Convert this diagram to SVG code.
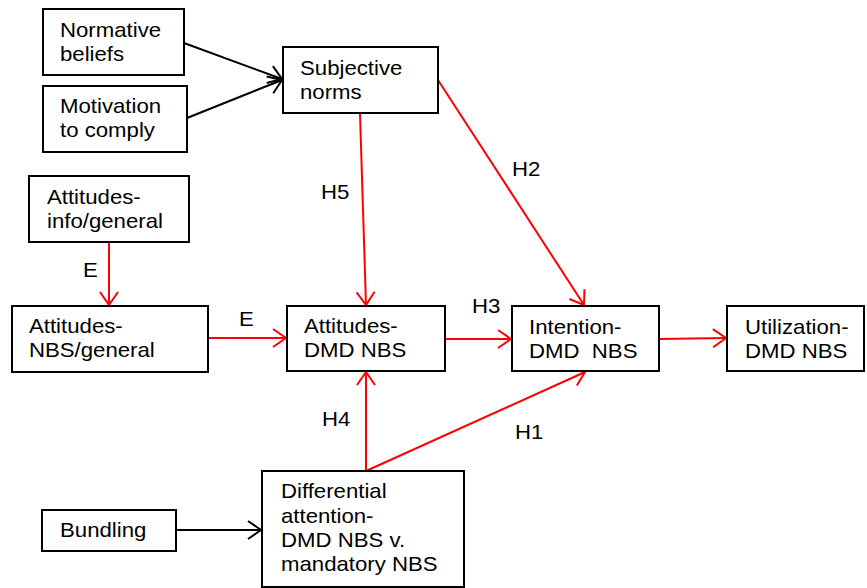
<svg xmlns="http://www.w3.org/2000/svg" width="867" height="588" viewBox="0 0 867 588">
<defs>
<style>
.box{fill:#fff;stroke:#000;stroke-width:2}
text{font-family:"Liberation Sans",Arial,sans-serif;font-size:20px;fill:#000}
.blk{stroke:#000;stroke-width:2;fill:none}
.red{stroke:#ff0000;stroke-width:2;fill:none}
</style>
<marker id="ab" viewBox="0 0 16 20" refX="14" refY="10" markerWidth="16" markerHeight="20" markerUnits="userSpaceOnUse" orient="auto">
<path d="M1,1 L14,10 L1,19" fill="none" stroke="#000" stroke-width="2"/>
</marker>
<marker id="ar" viewBox="0 0 16 20" refX="14" refY="10" markerWidth="16" markerHeight="20" markerUnits="userSpaceOnUse" orient="auto">
<path d="M1,1 L14,10 L1,19" fill="none" stroke="#ff0000" stroke-width="2"/>
</marker>
</defs>
<rect width="867" height="588" fill="#fff"/>
<g id="connectors">
<line class="blk" x1="184" y1="43" x2="282" y2="79" marker-end="url(#ab)"/>
<line class="blk" x1="187" y1="118" x2="282" y2="80" marker-end="url(#ab)"/>
<line class="blk" x1="176" y1="530" x2="261" y2="530" marker-end="url(#ab)"/>
<line class="red" x1="109" y1="242" x2="109" y2="305" marker-end="url(#ar)"/>
<line class="red" x1="208" y1="338" x2="286" y2="338" marker-end="url(#ar)"/>
<line class="red" x1="360" y1="113" x2="366" y2="305" marker-end="url(#ar)"/>
<line class="red" x1="438" y1="80" x2="584" y2="305" marker-end="url(#ar)"/>
<line class="red" x1="445" y1="339" x2="511" y2="339" marker-end="url(#ar)"/>
<line class="red" x1="659" y1="339" x2="726" y2="338" marker-end="url(#ar)"/>
<line class="red" x1="366" y1="471" x2="366" y2="372" marker-end="url(#ar)"/>
<line class="red" x1="366" y1="471" x2="585" y2="372" marker-end="url(#ar)"/>
<text transform="translate(83,277) scale(1.11 1)">E</text>
<text transform="translate(239,326) scale(1.11 1)">E</text>
<text transform="translate(321,199) scale(1.11 1)">H5</text>
<text transform="translate(512,176) scale(1.11 1)">H2</text>
<text transform="translate(472,313) scale(1.11 1)">H3</text>
<text transform="translate(322,426) scale(1.11 1)">H4</text>
<text transform="translate(515,439) scale(1.11 1)">H1</text>
</g>
<g id="normative-beliefs">
<rect class="box" x="43" y="9" width="141" height="66"/>
<text transform="translate(60,37) scale(1.11 1)">Normative</text>
<text transform="translate(60,61) scale(1.11 1)">beliefs</text>
</g>
<g id="motivation-to-comply">
<rect class="box" x="43" y="86" width="144" height="66"/>
<text transform="translate(60,113) scale(1.11 1)">Motivation</text>
<text transform="translate(60,137) scale(1.11 1)">to comply</text>
</g>
<g id="subjective-norms">
<rect class="box" x="283" y="47" width="155" height="66"/>
<text transform="translate(300,75) scale(1.11 1)">Subjective</text>
<text transform="translate(300,99) scale(1.11 1)">norms</text>
</g>
<g id="attitudes-info-general">
<rect class="box" x="29" y="176" width="160" height="66"/>
<text transform="translate(47,204) scale(1.11 1)">Attitudes-</text>
<text transform="translate(47,228) scale(1.11 1)">info/general</text>
</g>
<g id="attitudes-nbs-general">
<rect class="box" x="12" y="306" width="196" height="66"/>
<text transform="translate(29,333) scale(1.11 1)">Attitudes-</text>
<text transform="translate(29,357) scale(1.11 1)">NBS/general</text>
</g>
<g id="attitudes-dmd-nbs">
<rect class="box" x="287" y="306" width="158" height="65"/>
<text transform="translate(304,333) scale(1.11 1)">Attitudes-</text>
<text transform="translate(304,357) scale(1.11 1)">DMD NBS</text>
</g>
<g id="intention-dmd-nbs">
<rect class="box" x="512" y="306" width="147" height="65"/>
<text transform="translate(529,334) scale(1.11 1)">Intention-</text>
<text transform="translate(529,358) scale(1.11 1)" xml:space="preserve">DMD  NBS</text>
</g>
<g id="utilization-dmd-nbs">
<rect class="box" x="727" y="306" width="137" height="65"/>
<text transform="translate(745,334) scale(1.11 1)">Utilization-</text>
<text transform="translate(745,358) scale(1.11 1)">DMD NBS</text>
</g>
<g id="bundling">
<rect class="box" x="42" y="510" width="134" height="41"/>
<text transform="translate(60,537) scale(1.11 1)">Bundling</text>
</g>
<g id="differential-attention">
<rect class="box" x="262" y="471" width="202" height="116"/>
<text transform="translate(281,498) scale(1.11 1)">Differential</text>
<text transform="translate(281,523) scale(1.11 1)">attention-</text>
<text transform="translate(281,547) scale(1.11 1)">DMD NBS v.</text>
<text transform="translate(281,571) scale(1.11 1)">mandatory NBS</text>
</g>
</svg>
